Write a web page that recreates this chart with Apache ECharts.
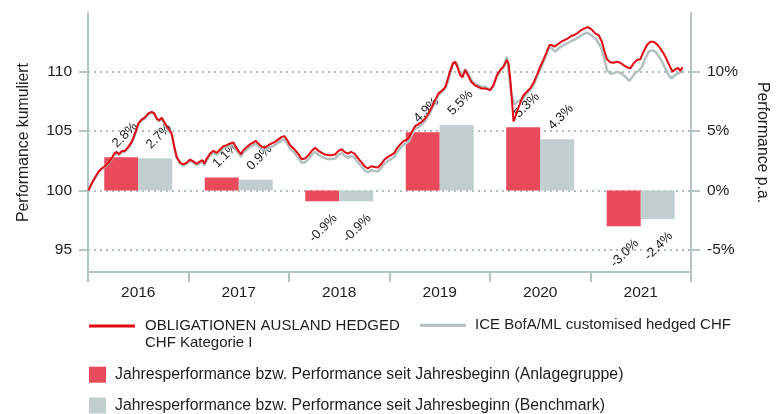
<!DOCTYPE html>
<html><head><meta charset="utf-8">
<script src="https://cdn.jsdelivr.net/npm/echarts@6/dist/echarts.min.js"></script>
<style>html,body{margin:0;padding:0;background:#fff}#c{width:778px;height:414px}</style>
</head><body><div id="c"></div>
<script>
const years = ['2016','2017','2018','2019','2020','2021'];
const fundYearly = [2.8, 1.1, -0.9, 4.9, 5.3, -3.0];
const benchYearly = [2.7, 0.9, -0.9, 5.5, 4.3, -2.4];
const leftTicks = [95, 100, 105, 110];
const rightTicks = [-5, 0, 5, 10];
const fundName = 'OBLIGATIONEN AUSLAND HEDGED\nCHF Kategorie I';
const benchName = 'ICE BofA/ML customised hedged CHF';
const fundBarName = 'Jahresperformance bzw. Performance seit Jahresbeginn (Anlagegruppe)';
const benchBarName = 'Jahresperformance bzw. Performance seit Jahresbeginn (Benchmark)';
// time in years since 2016-01-01
const fundT = [0.003,0.037,0.070,0.103,0.136,0.169,0.202,0.236,0.262,0.286,0.309,0.336,0.368,0.401,0.435,0.468,0.501,0.535,0.567,0.600,0.634,0.660,0.684,0.707,0.734,0.767,0.799,0.833,0.859,0.883,0.916,0.949,0.983,1.015,1.048,1.082,1.115,1.140,1.158,1.182,1.215,1.247,1.281,1.314,1.347,1.381,1.414,1.447,1.470,1.496,1.523,1.546,1.580,1.613,1.646,1.670,1.695,1.729,1.762,1.795,1.829,1.862,1.894,1.928,1.954,1.978,2.011,2.044,2.094,2.127,2.160,2.193,2.227,2.260,2.293,2.327,2.359,2.392,2.426,2.459,2.492,2.526,2.552,2.585,2.618,2.651,2.685,2.718,2.751,2.784,2.817,2.850,2.884,2.917,2.950,2.984,3.016,3.049,3.073,3.106,3.139,3.173,3.196,3.222,3.255,3.288,3.322,3.355,3.388,3.422,3.454,3.487,3.521,3.554,3.577,3.604,3.631,3.654,3.680,3.703,3.726,3.753,3.780,3.813,3.846,3.880,3.912,3.952,4.002,4.035,4.069,4.102,4.134,4.168,4.184,4.201,4.218,4.234,4.251,4.274,4.301,4.333,4.367,4.400,4.433,4.467,4.500,4.533,4.566,4.592,4.616,4.642,4.676,4.709,4.742,4.775,4.808,4.841,4.875,4.908,4.941,4.975,5.007,5.047,5.080,5.114,5.140,5.164,5.197,5.229,5.263,5.296,5.329,5.363,5.396,5.429,5.462,5.495,5.528,5.562,5.595,5.628,5.661,5.694,5.727,5.761,5.794,5.817,5.844,5.871,5.893,5.916];
const fundV = [100.0,100.59,101.09,101.56,101.85,102.04,102.32,102.69,103.10,103.24,103.05,103.30,103.33,103.66,104.08,104.79,105.63,105.97,106.13,106.47,106.60,106.47,106.05,105.90,106.10,105.63,105.21,104.79,103.66,102.82,102.35,102.20,102.35,102.60,102.45,102.25,102.45,102.55,102.25,102.69,103.10,103.33,103.16,103.45,103.72,103.80,103.95,104.03,103.66,103.33,103.05,103.39,103.66,103.89,104.03,104.17,103.95,103.66,103.61,103.80,103.95,104.08,104.29,104.50,104.56,104.30,103.80,103.55,103.05,102.63,102.69,102.97,103.33,103.58,103.33,103.16,103.02,102.97,102.97,103.02,103.33,103.47,103.24,103.10,103.24,103.10,102.74,102.40,102.04,101.85,102.04,101.98,101.93,102.21,102.60,102.82,102.97,103.16,103.53,103.87,104.14,104.29,104.45,104.93,105.40,105.57,105.77,106.05,106.47,107.03,107.59,108.15,108.37,108.66,109.27,110.05,110.67,110.81,110.25,109.69,109.50,110.11,109.69,109.13,108.85,108.71,108.57,108.57,108.43,108.85,109.69,110.11,110.39,110.95,110.67,109.41,107.59,105.80,106.18,106.75,107.36,108.00,108.29,108.57,109.04,109.69,110.39,111.01,111.65,112.21,112.21,112.07,112.29,112.49,112.63,112.77,112.97,113.05,113.24,113.47,113.61,113.72,113.55,113.19,113.05,112.49,111.65,111.01,110.76,110.72,110.81,110.72,110.53,110.34,110.25,110.67,110.95,111.01,111.65,112.21,112.49,112.49,112.29,111.93,111.51,110.95,110.34,109.97,110.17,110.30,110.05,110.34];
const benchT = [0.003,0.037,0.070,0.103,0.136,0.169,0.202,0.236,0.262,0.286,0.309,0.336,0.368,0.401,0.435,0.468,0.501,0.535,0.567,0.600,0.634,0.660,0.684,0.707,0.734,0.767,0.799,0.833,0.859,0.883,0.916,0.949,0.983,1.015,1.048,1.082,1.115,1.140,1.158,1.182,1.215,1.247,1.281,1.314,1.347,1.381,1.414,1.447,1.470,1.496,1.523,1.546,1.580,1.613,1.646,1.670,1.695,1.729,1.762,1.795,1.829,1.862,1.894,1.928,1.954,1.978,2.011,2.044,2.094,2.127,2.160,2.193,2.227,2.260,2.293,2.327,2.359,2.392,2.426,2.459,2.492,2.526,2.552,2.585,2.618,2.651,2.685,2.718,2.751,2.784,2.817,2.850,2.884,2.917,2.950,2.984,3.016,3.049,3.073,3.106,3.139,3.173,3.196,3.222,3.255,3.288,3.322,3.355,3.388,3.422,3.454,3.487,3.521,3.554,3.577,3.604,3.631,3.654,3.680,3.703,3.726,3.753,3.780,3.813,3.846,3.880,3.912,3.952,4.002,4.035,4.069,4.102,4.134,4.168,4.211,4.244,4.268,4.301,4.333,4.367,4.400,4.433,4.467,4.500,4.533,4.566,4.592,4.616,4.649,4.682,4.716,4.749,4.781,4.815,4.848,4.881,4.915,4.948,4.981,5.014,5.047,5.080,5.114,5.140,5.164,5.197,5.229,5.263,5.296,5.329,5.363,5.386,5.413,5.446,5.479,5.512,5.546,5.579,5.612,5.645,5.678,5.711,5.744,5.777,5.807,5.841,5.875,5.908,5.916];
const benchV = [100.0,100.57,101.06,101.52,101.81,101.99,102.27,102.63,103.03,103.17,102.98,103.22,103.25,103.58,104.00,104.70,105.55,105.88,106.04,106.38,106.51,106.38,105.96,105.80,106.00,105.53,105.11,104.69,103.57,102.72,102.25,102.10,102.25,102.49,102.33,102.12,102.32,102.41,102.11,102.54,102.94,103.17,102.99,103.28,103.54,103.62,103.76,103.84,103.46,103.13,102.84,103.18,103.44,103.67,103.80,103.94,103.71,103.42,103.36,103.55,103.69,103.82,104.02,104.23,104.28,104.01,103.51,103.25,102.74,102.32,102.37,102.65,103.01,103.25,103.00,102.83,102.69,102.64,102.64,102.68,102.99,103.13,102.90,102.76,102.90,102.76,102.40,102.06,101.70,101.51,101.70,101.64,101.59,101.87,102.26,102.48,102.63,102.83,103.21,103.56,103.84,104.00,104.17,104.66,105.14,105.33,105.55,105.85,106.29,106.87,107.45,108.03,108.27,108.58,109.00,109.85,110.55,110.80,110.45,109.85,109.65,110.20,109.85,109.30,109.00,108.85,108.72,108.70,108.45,108.80,109.60,110.05,110.40,111.23,108.15,107.20,107.45,107.59,107.82,108.15,108.43,108.85,109.55,110.17,110.81,111.51,112.07,111.93,111.65,111.93,112.13,112.29,112.40,112.57,112.69,112.86,113.05,113.19,113.19,112.98,112.77,112.40,111.79,110.95,110.11,109.83,109.83,109.97,109.88,109.69,109.41,109.21,109.50,109.88,110.05,110.39,111.09,111.65,111.79,111.65,111.29,110.81,110.25,109.69,109.41,109.69,109.83,109.97,110.11];

const FONT = 'Liberation Sans';
const TXT = '#1e1e1e';
const AXIS = '#b6c4c4';
const GRIDC = '#b0bdbd';
const RED = '#e30613', GRAYL = '#b3c0c0', REDBAR = '#e94b5c', GRAYBAR = '#c3cfcf';

// main plot layout and value range of the cumulative axis
const W = 778, H = 414, G_LEFT = 88, G_RIGHT = 87, G_TOP = 13, G_BOTTOM = 142;
const L_MIN = 93.16, L_MAX = 114.9, R_MIN = -6.84, R_MAX = 14.9;
const plotH = H - G_TOP - G_BOTTOM;
// second (tick-only) grid spans exactly the labelled tick range
const tLo = leftTicks[0], tHi = leftTicks[leftTicks.length - 1];
const g2Top = G_TOP + (L_MAX - tHi) / (L_MAX - L_MIN) * plotH;
const g2Bottom = G_BOTTOM + (tLo - L_MIN) / (L_MAX - L_MIN) * plotH;

// label offsets are in the rotated (45°) frame
const posLabel = {position:'top', distance:0, rotate:45, align:'left', verticalAlign:'middle', offset:[3.5,-13]};
const negLabel = {position:'bottom', distance:0, rotate:45, align:'right', verticalAlign:'middle', offset:[-1.4,19.8]};
function barData(arr){ return arr.map(v => ({value: v, label: v < 0 ? negLabel : posLabel})); }

const tickOnly = (pos, ticks) => ({
  gridIndex:1, type:'value', position: pos, min: ticks[0], max: ticks[ticks.length-1], interval: ticks[1]-ticks[0],
  axisLine:{show:false}, axisLabel:{show:false}, splitLine:{show:false},
  axisTick:{show:true, inside:false, length:9, lineStyle:{color: AXIS, width: 2}}
});

const chart = echarts.init(document.getElementById('c'), null, {renderer:'canvas'});
chart.setOption({
  animation: false,
  textStyle: {fontFamily: FONT},
  grid: [
    {left: G_LEFT, right: G_RIGHT, top: G_TOP, bottom: G_BOTTOM, containLabel: false},
    {left: G_LEFT, right: G_RIGHT, top: g2Top, bottom: g2Bottom, containLabel: false}
  ],
  xAxis: [
    {type:'category', data: years, boundaryGap: true,
     axisLine:{onZero:false, lineStyle:{color: AXIS, width: 2}},
     axisTick:{show:true, interval:0, length:10, lineStyle:{color: AXIS, width: 2}},
     axisLabel:{fontFamily: FONT, fontSize: 15.5, color: TXT, margin: 13},
     splitLine:{show:false}},
    {type:'value', min:0, max:6, show:false},
    {gridIndex:1, type:'value', min:0, max:1, show:false}
  ],
  yAxis: [
    {type:'value', position:'left', min:L_MIN, max:L_MAX,
     name:'Performance kumuliert', nameLocation:'middle', nameGap:56,
     nameTextStyle:{fontFamily: FONT, fontSize:15.8, color: TXT},
     axisLine:{show:true, onZero:false, lineStyle:{color: AXIS, width: 2}},
     axisTick:{show:true, inside:false, length:9, customValues: leftTicks, lineStyle:{color: AXIS, width: 2}},
     axisLabel:{fontFamily: FONT, fontSize:15.5, color: TXT, margin:16, customValues: leftTicks},
     splitLine:{show:true, lineStyle:{color: GRIDC, width: 2, type:[2,4]}}},
    {type:'value', position:'right', min:R_MIN, max:R_MAX,
     name:'Performance p.a.', nameLocation:'middle', nameGap:63, nameRotate:-90,
     nameTextStyle:{fontFamily: FONT, fontSize:15.8, color: TXT},
     axisLine:{show:true, onZero:false, lineStyle:{color: AXIS, width: 2}},
     axisTick:{show:true, inside:false, length:9, customValues: rightTicks, lineStyle:{color: AXIS, width: 2}},
     axisLabel:{fontFamily: FONT, fontSize:15.5, color: TXT, margin:16, customValues: rightTicks, formatter: v => v + '%'},
     splitLine:{show:false}},
    tickOnly('left', leftTicks),
    tickOnly('right', rightTicks)
  ],
  legend: [
    {data:[fundName], left:89, top:300.5, padding:0, icon:'rect', itemWidth:46, itemHeight:3,
     formatter: n => '\n' + n,
     textStyle:{fontFamily: FONT, fontSize:15, color: TXT, lineHeight:17, padding:[0,0,0,5]}},
    {data:[benchName], left:420, top:316.7, padding:0, icon:'rect', itemWidth:46, itemHeight:3,
     textStyle:{fontFamily: FONT, fontSize:15, color: TXT, lineHeight:17, padding:[0,0,0,4]}},
    {data:[fundBarName], left:89, top:366.2, padding:0, icon:'rect', itemWidth:17, itemHeight:16,
     textStyle:{fontFamily: FONT, fontSize:15.8, color: TXT, lineHeight:17, padding:[0,0,0,4]}},
    {data:[benchBarName], left:89, top:397, padding:0, icon:'rect', itemWidth:17, itemHeight:16,
     textStyle:{fontFamily: FONT, fontSize:15.8, color: TXT, lineHeight:17, padding:[0,0,0,4]}}
  ],
  series: [
    {name: fundBarName, type:'bar', xAxisIndex:0, yAxisIndex:1, data: barData(fundYearly),
     barWidth:34, barGap:'0%', color: REDBAR, itemStyle:{color: REDBAR},
     label:{show:true, formatter: p => p.value.toFixed(1) + '%', fontFamily: FONT, fontSize:13, color: TXT}},
    {name: benchBarName, type:'bar', xAxisIndex:0, yAxisIndex:1, data: barData(benchYearly),
     barWidth:34, barGap:'0%', color: GRAYBAR, itemStyle:{color: GRAYBAR},
     label:{show:true, formatter: p => p.value.toFixed(1) + '%', fontFamily: FONT, fontSize:13, color: TXT}},
    {name: benchName, type:'line', xAxisIndex:1, yAxisIndex:0, showSymbol:false, symbol:'none',
     data: benchT.map((t,i) => [t, benchV[i]]), color: GRAYL, lineStyle:{color: GRAYL, width:2.5}, z:3},
    {name: fundName, type:'line', xAxisIndex:1, yAxisIndex:0, showSymbol:false, symbol:'none',
     data: fundT.map((t,i) => [t, fundV[i]]), color: RED, lineStyle:{color: RED, width:2}, z:4}
  ]
});
</script></body></html>
